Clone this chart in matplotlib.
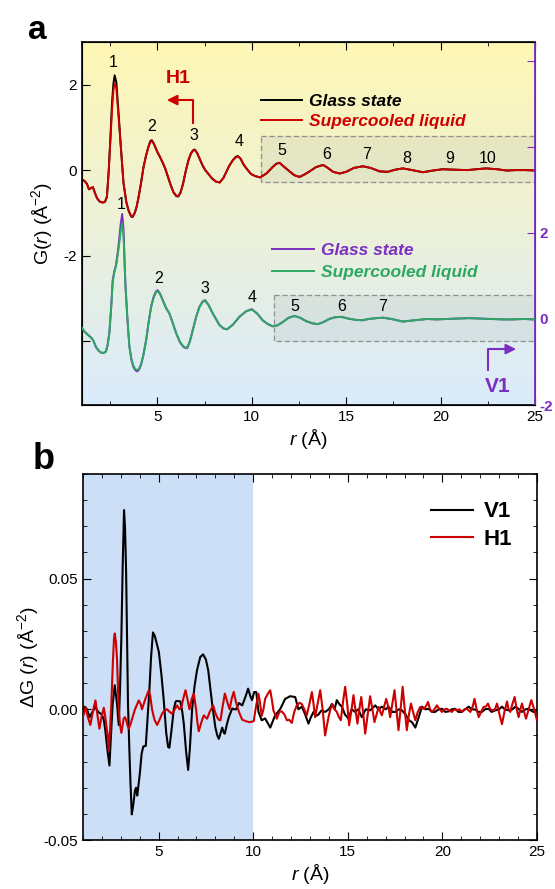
import matplotlib

matplotlib.use("Agg")
import numpy as np
import matplotlib.pyplot as plt
from matplotlib.ticker import MultipleLocator, FixedLocator, FixedFormatter

plt.rcParams["font.family"] = ["Liberation Sans", "DejaVu Sans"]
plt.rcParams["mathtext.fontset"] = "custom"
plt.rcParams["mathtext.rm"] = "Liberation Sans"
plt.rcParams["mathtext.it"] = "Liberation Sans:italic"
plt.rcParams["mathtext.bf"] = "Liberation Sans:bold"

# ---- panel a : H1 (left axis) ----
r_h1 = [1.0, 1.13, 1.26, 1.37, 1.48, 1.58, 1.7, 1.8, 1.95, 2.1, 2.22, 2.32, 2.41, 2.5, 2.59, 2.66, 2.73, 2.82,
        2.94, 3.05, 3.2, 3.35, 3.47, 3.6, 3.68, 3.8, 3.9, 4.0, 4.13, 4.26, 4.4, 4.53, 4.62, 4.7, 4.8, 4.9, 5.0,
        5.14, 5.27, 5.4, 5.55, 5.7, 5.85, 6.0, 6.1, 6.22, 6.35, 6.5, 6.64, 6.78, 6.9, 6.98, 7.1, 7.26, 7.4, 7.53,
        7.7, 7.88, 8.1, 8.3, 8.5, 8.65, 8.8, 9.0, 9.15, 9.25, 9.4, 9.55, 9.73, 9.95, 10.17, 10.44, 10.77, 11.1,
        11.3, 11.47, 11.7, 12.0, 12.25, 12.53, 12.8, 13.06, 13.4, 13.77, 14.0, 14.3, 14.65, 15.0, 15.4, 15.88,
        16.3, 16.77, 17.2, 17.6, 18.0, 18.5, 19.06, 19.6, 20.1, 20.7, 21.4, 21.9, 22.4, 23.0, 23.5, 24.0, 24.5, 25.0]
g_h1_glass = [-0.23, -0.25, -0.32, -0.45, -0.42, -0.40, -0.55, -0.66, -0.74, -0.76, -0.74, -0.63, -0.07, 0.70,
              1.56, 2.0, 2.22, 2.06, 1.33, 0.6, -0.3, -0.75, -0.95, -1.08, -1.1, -1.0, -0.85, -0.63, -0.3, 0.07,
              0.35, 0.56, 0.68, 0.70, 0.63, 0.52, 0.42, 0.30, 0.18, 0.05, -0.15, -0.35, -0.52, -0.61, -0.62, -0.53,
              -0.33, -0.02, 0.23, 0.40, 0.47, 0.48, 0.40, 0.24, 0.10, 0.0, -0.09, -0.19, -0.27, -0.29, -0.18, -0.04,
              0.10, 0.24, 0.31, 0.33, 0.27, 0.14, 0.03, -0.09, -0.14, -0.17, -0.08, 0.07, 0.15, 0.17, 0.08, -0.03,
              -0.12, -0.16, -0.10, -0.03, 0.07, 0.12, 0.06, -0.04, -0.08, -0.04, 0.05, 0.09, 0.05, -0.03, -0.04,
              0.01, 0.04, 0.0, -0.05, -0.01, 0.02, 0.01, 0.0, 0.02, 0.04, 0.02, -0.01, 0.0, 0.0, -0.01]
g_h1_liquid = [-0.23, -0.25, -0.32, -0.45, -0.42, -0.40, -0.55, -0.66, -0.74, -0.76, -0.74, -0.63, -0.07, 0.66,
               1.40, 1.85, 2.03, 1.92, 1.24, 0.6, -0.3, -0.75, -0.95, -1.07, -1.09, -1.0, -0.85, -0.63, -0.3, 0.07,
               0.35, 0.55, 0.66, 0.68, 0.62, 0.52, 0.42, 0.30, 0.18, 0.05, -0.15, -0.35, -0.52, -0.60, -0.61, -0.52,
               -0.33, -0.02, 0.23, 0.39, 0.46, 0.47, 0.40, 0.24, 0.10, 0.0, -0.09, -0.19, -0.27, -0.29, -0.18, -0.04,
               0.10, 0.23, 0.30, 0.32, 0.27, 0.14, 0.03, -0.09, -0.14, -0.17, -0.08, 0.07, 0.15, 0.17, 0.08, -0.03,
               -0.12, -0.16, -0.10, -0.03, 0.07, 0.12, 0.06, -0.04, -0.08, -0.04, 0.05, 0.09, 0.05, -0.03, -0.04,
               0.01, 0.04, 0.0, -0.05, -0.01, 0.02, 0.01, 0.0, 0.02, 0.04, 0.02, -0.01, 0.0, 0.0, -0.01]

# ---- panel a : V1 (right axis) ----
r_v1 = [1.0, 1.15, 1.32, 1.48, 1.6, 1.74, 1.87, 2.0, 2.13, 2.27, 2.36, 2.45, 2.55, 2.63, 2.72, 2.8, 2.88, 2.95,
        3.05, 3.13, 3.2, 3.3, 3.4, 3.51, 3.62, 3.72, 3.82, 3.92, 4.02, 4.13, 4.25, 4.4, 4.53, 4.66, 4.8, 4.92, 5.01,
        5.15, 5.28, 5.45, 5.63, 5.8, 5.99, 6.2, 6.4, 6.57, 6.72, 6.87, 7.05, 7.22, 7.38, 7.52, 7.7, 7.93, 8.1, 8.28,
        8.5, 8.69, 9.0, 9.34, 9.7, 10.0, 10.3, 10.57, 10.85, 11.1, 11.35, 11.64, 11.95, 12.26, 12.55, 12.88, 13.2,
        13.5, 13.8, 14.1, 14.4, 14.74, 15.1, 15.5, 15.85, 16.2, 16.6, 16.95, 17.4, 18.0, 18.6, 19.3, 19.8, 20.3,
        20.9, 21.5, 22.1, 22.7, 23.3, 23.8, 24.4, 25.0]
g_v1_glass = [-0.21, -0.30, -0.37, -0.43, -0.50, -0.65, -0.73, -0.78, -0.79, -0.76, -0.6, -0.33, 0.30, 0.91, 1.12,
              1.25, 1.50, 1.76, 2.2, 2.44, 2.1, 0.83, 0.05, -0.64, -0.95, -1.11, -1.19, -1.22, -1.18, -1.07, -0.85,
              -0.49, -0.08, 0.28, 0.52, 0.64, 0.67, 0.58, 0.44, 0.26, 0.13, -0.08, -0.33, -0.55, -0.66, -0.68, -0.52,
              -0.26, 0.05, 0.28, 0.40, 0.44, 0.33, 0.13, 0.0, -0.14, -0.22, -0.24, -0.13, 0.05, 0.18, 0.23, 0.12,
              -0.03, -0.12, -0.17, -0.15, -0.07, 0.03, 0.07, 0.03, -0.05, -0.10, -0.12, -0.07, 0.0, 0.04, 0.05, 0.01,
              -0.02, -0.03, 0.0, 0.02, 0.03, 0.0, -0.06, -0.03, 0.0, -0.01, 0.0, 0.01, 0.02, 0.01, 0.0, -0.01, -0.01,
              0.0, -0.01]
g_v1_liquid = [-0.21, -0.30, -0.37, -0.43, -0.50, -0.65, -0.73, -0.78, -0.79, -0.76, -0.6, -0.33, 0.28, 0.88, 1.10,
               1.22, 1.45, 1.66, 2.03, 2.23, 1.95, 0.80, 0.05, -0.62, -0.93, -1.08, -1.16, -1.19, -1.16, -1.05, -0.84,
               -0.49, -0.08, 0.27, 0.50, 0.62, 0.65, 0.57, 0.43, 0.26, 0.13, -0.08, -0.33, -0.54, -0.65, -0.67, -0.51,
               -0.26, 0.05, 0.27, 0.39, 0.43, 0.33, 0.13, 0.0, -0.14, -0.22, -0.24, -0.13, 0.05, 0.18, 0.22, 0.12,
               -0.03, -0.12, -0.17, -0.15, -0.07, 0.03, 0.07, 0.03, -0.05, -0.10, -0.12, -0.07, 0.0, 0.04, 0.05, 0.01,
               -0.02, -0.03, 0.0, 0.02, 0.03, 0.0, -0.06, -0.03, 0.0, -0.01, 0.0, 0.01, 0.02, 0.01, 0.0, -0.01, -0.01,
               0.0, -0.01]

# peak labels
h1_peak_r = [2.64, 4.7, 6.93, 9.3, 11.6, 13.96, 16.1, 18.2, 20.5, 22.5]
h1_peak_g = [2.53, 1.03, 0.82, 0.66, 0.47, 0.37, 0.37, 0.28, 0.28, 0.28]
v1_peak_r = [3.1, 5.07, 7.5, 10.0, 12.27, 14.76, 16.9]
v1_peak_g = [2.65, 0.95, 0.72, 0.49, 0.30, 0.30, 0.28]

# ---- panel b : difference curves ----
r_dv1 = [1.0, 1.1, 1.21, 1.35, 1.5, 1.65, 1.8, 2.0, 2.1, 2.18, 2.3, 2.4, 2.48, 2.57, 2.68, 2.8, 2.89, 2.96, 3.03,
         3.1, 3.17, 3.22, 3.28, 3.38, 3.45, 3.51, 3.58, 3.65, 3.75, 3.81, 3.87, 4.0, 4.1, 4.19, 4.32, 4.42, 4.51, 4.6,
         4.7, 4.8, 5.01, 5.15, 5.27, 5.4, 5.5, 5.57, 5.68, 5.8, 5.9, 5.98, 6.15, 6.25, 6.33, 6.45, 6.56, 6.65, 6.77,
         6.9, 7.03, 7.2, 7.35, 7.5, 7.62, 7.73, 7.83, 8.0, 8.1, 8.18, 8.28, 8.36, 8.45, 8.5, 8.6, 8.71, 8.89, 9.0,
         9.1, 9.24, 9.42, 9.6, 9.73, 9.85, 9.94, 10.05, 10.16, 10.28, 10.45, 10.63, 10.9, 11.16, 11.42, 11.69, 11.95,
         12.22, 12.39, 12.57, 12.75, 12.92, 13.05, 13.19, 13.32, 13.45, 13.6, 13.8, 14.0, 14.16, 14.3, 14.42, 14.55,
         14.69, 14.85, 15.04, 15.2, 15.39, 15.55, 15.74, 15.95, 16.18, 16.45, 16.62, 16.8, 17.0, 17.15, 17.35, 17.5,
         17.7, 17.86, 18.05, 18.21, 18.4, 18.57, 18.75, 18.92, 19.1, 19.27, 19.45, 19.62, 19.8, 19.98, 20.15, 20.33,
         20.5, 20.68, 20.85, 21.03, 21.2, 21.39, 21.55, 21.74, 21.9, 22.09, 22.25, 22.45, 22.6, 22.8, 23.0, 23.15,
         23.3, 23.5, 23.7, 23.86, 24.05, 24.2, 24.4, 24.56, 24.8, 25.0]
dg_v1 = [-0.002, 0.001, 0.0, -0.003, -0.001, 0.001, -0.001, -0.002, -0.004, -0.008, -0.016, -0.0215, -0.010,
         0.002, 0.0092, 0.002, -0.006, 0.008, 0.0277, 0.055, 0.0762, 0.070, 0.053, 0.002, -0.015, -0.028, -0.0402,
         -0.037, -0.031, -0.030, -0.033, -0.025, -0.017, -0.0142, -0.014, -0.003, 0.0073, 0.020, 0.0294, 0.028,
         0.022, 0.013, 0.0035, -0.009, -0.0144, -0.0147, -0.008, 0.0, 0.003, 0.0032, 0.003, -0.001, -0.0055, -0.016,
         -0.0232, -0.015, 0.0, 0.009, 0.015, 0.020, 0.021, 0.019, 0.015, 0.008, 0.002, -0.007, -0.010, -0.0113,
         -0.009, -0.007, -0.009, -0.0093, -0.006, -0.003, 0.0003, 0.0, 0.0, 0.0024, 0.0015, 0.005, 0.0079, 0.005,
         0.0035, 0.0066, 0.0066, -0.001, -0.0042, -0.0035, -0.007, -0.0023, 0.0, 0.004, 0.005, 0.0047, 0.0, 0.001,
         -0.002, -0.0055, -0.003, -0.001, -0.0025, -0.002, -0.0005, -0.001, 0.0, 0.002, 0.0, 0.0035, 0.002, 0.001,
         -0.002, -0.0036, 0.0, -0.001, 0.0, -0.003, 0.0, -0.0004, 0.0015, 0.0, 0.001, 0.0, 0.001, -0.001, -0.001,
         0.0, -0.0004, -0.002, -0.004, -0.005, -0.007, -0.003, 0.001, 0.0, 0.0002, -0.001, -0.001, 0.0, 0.0002,
         -0.001, -0.0008, 0.0, 0.0002, -0.001, -0.001, 0.0, 0.001, 0.0, -0.0001, -0.001, -0.001, 0.0, 0.0002,
         -0.001, -0.0004, 0.0, 0.001, 0.0, -0.0004, 0.0, 0.001, 0.0, -0.001, 0.0, 0.0002, -0.001, -0.0004]

r_dh1 = [1.0, 1.13, 1.26, 1.39, 1.52, 1.66, 1.76, 1.87, 1.98, 2.1, 2.16, 2.22, 2.3, 2.36, 2.43, 2.5, 2.58, 2.64,
         2.68, 2.74, 2.8, 2.89, 2.96, 3.03, 3.1, 3.15, 3.22, 3.28, 3.35, 3.42, 3.5, 3.6, 3.75, 3.95, 4.05, 4.12, 4.3,
         4.48, 4.56, 4.65, 4.78, 4.92, 5.05, 5.18, 5.3, 5.45, 5.58, 5.71, 5.85, 5.98, 6.1, 6.19, 6.3, 6.42, 6.52,
         6.63, 6.75, 6.86, 6.98, 7.05, 7.12, 7.22, 7.3, 7.39, 7.47, 7.56, 7.7, 7.88, 7.98, 8.09, 8.18, 8.27, 8.38,
         8.5, 8.62, 8.75, 8.86, 8.97, 9.08, 9.2, 9.3, 9.42, 9.6, 9.77, 9.9, 10.03, 10.1, 10.17, 10.28, 10.37, 10.45,
         10.54, 10.63, 10.78, 10.9, 11.0, 11.07, 11.25, 11.38, 11.51, 11.65, 11.78, 11.9, 12.04, 12.17, 12.3, 12.45,
         12.57, 12.7, 12.83, 12.97, 13.1, 13.19, 13.27, 13.4, 13.54, 13.67, 13.8, 13.9, 13.98, 14.08, 14.19, 14.3,
         14.42, 14.53, 14.63, 14.75, 14.86, 14.97, 15.07, 15.18, 15.3, 15.4, 15.51, 15.61, 15.71, 15.82, 15.92,
         16.05, 16.18, 16.3, 16.41, 16.52, 16.63, 16.72, 16.8, 16.92, 17.03, 17.14, 17.24, 17.35, 17.47, 17.57,
         17.68, 17.79, 17.9, 18.01, 18.12, 18.23, 18.34, 18.45, 18.57, 18.7, 18.83, 19.0, 19.12, 19.24, 19.35, 19.45,
         19.58, 19.71, 19.85, 19.98, 20.12, 20.24, 20.37, 20.5, 20.63, 20.77, 20.9, 21.03, 21.17, 21.3, 21.4, 21.48,
         21.6, 21.7, 21.81, 21.92, 22.05, 22.18, 22.3, 22.41, 22.53, 22.66, 22.78, 22.89, 23.02, 23.15, 23.28, 23.42,
         23.5, 23.59, 23.7, 23.82, 23.93, 24.03, 24.12, 24.21, 24.32, 24.42, 24.56, 24.7, 24.85, 25.0]
dg_h1 = [-0.003, 0.0007, -0.003, -0.006, -0.001, 0.0034, -0.002, -0.0074, -0.003, 0.0006, -0.002, -0.0055, -0.010,
         -0.0157, -0.008, 0.0022, 0.018, 0.027, 0.029, 0.026, 0.019, 0.0, -0.006, -0.009, -0.006, -0.0036, -0.003,
         -0.004, -0.006, -0.0074, -0.006, -0.0036, 0.0, 0.0034, 0.002, 0.0, 0.004, 0.0073, 0.005, 0.0, -0.004,
         -0.006, -0.004, -0.0017, -0.0005, 0.0, -0.001, -0.0017, 0.0, 0.0015, 0.0, 0.0005, 0.004, 0.0073, 0.004,
         0.0, 0.004, 0.006, 0.0, -0.005, -0.0084, -0.006, -0.004, -0.0023, -0.003, -0.0036, -0.001, 0.0015, -0.001,
         -0.003, -0.004, -0.0042, 0.001, 0.006, 0.003, 0.0, 0.004, 0.0067, 0.003, 0.0, -0.002, -0.004, -0.0045,
         -0.0049, -0.0048, -0.0045, -0.001, 0.002, 0.006, 0.002, -0.0025, 0.0, 0.004, 0.006, 0.0073, 0.003,
         -0.0005, -0.0036, -0.001, -0.0008, -0.002, -0.0042, -0.004, -0.0052, -0.001, 0.0015, 0.0025, 0.002, 0.0,
         -0.0023, 0.002, 0.0066, 0.002, -0.003, 0.002, 0.0073, 0.0, -0.010, -0.006, -0.003, 0.0, 0.002, 0.0,
         -0.001, -0.003, -0.0042, 0.003, 0.0086, 0.002, -0.0061, -0.001, 0.0054, 0.0, -0.0055, 0.0, 0.0047, -0.002,
         -0.0093, -0.002, 0.005, 0.0, -0.0049, -0.002, 0.0009, -0.001, -0.0023, 0.001, 0.004, 0.001, -0.003, 0.002,
         0.0073, 0.0, -0.008, 0.0, 0.0086, 0.0, -0.008, -0.002, 0.0022, -0.001, -0.0042, -0.001, 0.0009, 0.0002,
         0.001, 0.0028, 0.0, -0.001, 0.0, 0.0015, 0.0, -0.001, 0.0, 0.0002, -0.0005, -0.001, 0.0, -0.0004, 0.0,
         -0.001, 0.0, 0.0002, -0.0005, -0.001, 0.001, 0.004, 0.0, -0.003, -0.001, 0.0009, 0.001, 0.0022, 0.0,
         -0.0004, 0.0, 0.0022, -0.002, -0.0057, -0.001, 0.003, 0.0, -0.001, 0.002, 0.0047, 0.0, -0.003, 0.0,
         0.0022, -0.001, -0.0036, 0.0, 0.0035, 0.0, -0.0042]

black = "#000000"
red = "#CC0000"
purple = "#7B2FC0"
green = "#2DA862"

fig = plt.figure(figsize=(5.55, 8.89), dpi=100)

# ================= panel a =================
ax1 = fig.add_axes([0.1477, 0.5444, 0.8162, 0.4084])
grad = np.linspace(0, 1, 256).reshape(-1, 1)
top_c = np.array([255, 247, 180]) / 255.0
bot_c = np.array([218, 235, 252]) / 255.0
img = top_c[None, None, :] * (1 - grad[:, :, None]) + bot_c[None, None, :] * grad[:, :, None]
ax1.imshow(img, extent=[0, 1, 0, 1], transform=ax1.transAxes, aspect="auto", zorder=0)

ax1.set_xlim(1, 25)
ax1.set_ylim(-5.5, 3)
ax1.plot(r_h1, g_h1_glass, color=black, lw=1.4, zorder=3, label="Glass state")
ax1.plot(r_h1, g_h1_liquid, color=red, lw=1.4, zorder=4, label="Supercooled liquid")
ax1.fill_between([10.5, 25], [-0.28, -0.28], [0.8, 0.8], color="#8a8f95", alpha=0.13, zorder=1)
ax1.plot([10.5, 25, 25, 10.5, 10.5], [0.8, 0.8, -0.28, -0.28, 0.8], color="#909090", lw=0.9, ls=(0, (4, 2.5)), zorder=2)
for i, (x, y) in enumerate(zip(h1_peak_r, h1_peak_g)):
    ax1.text(x, y, str(i + 1), ha="center", va="center", fontsize=11.5, zorder=5)

ax1.text(6.1, 2.15, "H1", color=red, fontsize=14, fontweight="bold", ha="center", va="center")
ax1.plot([6.87, 6.87, 5.7], [1.1, 1.64, 1.64], color=red, lw=1.5)
ax1.annotate("", xy=(5.35, 1.64), xytext=(5.9, 1.64),
             arrowprops=dict(arrowstyle="-|>,head_length=0.6,head_width=0.3", color=red, lw=1.5))

ax1.legend(loc="upper left", bbox_to_anchor=(0.36, 0.90), frameon=False, handlelength=2.4,
           handletextpad=0.4, labelspacing=0.3, labelcolor="linecolor",
           prop={"weight": "bold", "style": "italic", "size": 12.5})

ax1.xaxis.set_major_locator(FixedLocator([5, 10, 15, 20, 25]))
ax1.xaxis.set_minor_locator(MultipleLocator(2.5))
ax1.yaxis.set_major_locator(FixedLocator([-4, -2, 0, 2]))
ax1.yaxis.set_major_formatter(FixedFormatter(["", "-2", "0", "2"]))
ax1.tick_params(axis="both", which="both", direction="in", labelsize=11)
ax1.tick_params(axis="x", which="both", top=True)
ax1.tick_params(axis="x", which="minor", length=3)
ax1.tick_params(axis="both", which="major", length=6)
ax1.set_xlabel("$\\mathit{r}$ (Å)", fontsize=14, labelpad=2)
ax1.set_ylabel("G($\\mathit{r}$) (Å$^{-2}$)", fontsize=14, labelpad=6)

ax2 = ax1.twinx()
ax2.set_ylim(-2, 6.44)
ax2.plot(r_v1, g_v1_glass, color=purple, lw=1.4, zorder=3, label="Glass state")
ax2.plot(r_v1, g_v1_liquid, color=green, lw=1.4, zorder=4, label="Supercooled liquid")
ax2.fill_between([11.2, 25], [-0.5, -0.5], [0.55, 0.55], color="#8a95a0", alpha=0.13, zorder=1)
ax2.plot([11.2, 25, 25, 11.2, 11.2], [0.55, 0.55, -0.5, -0.5, 0.55], color="#909090", lw=0.9, ls=(0, (4, 2.5)), zorder=2)
for i, (x, y) in enumerate(zip(v1_peak_r, v1_peak_g)):
    ax2.text(x, y, str(i + 1), ha="center", va="center", fontsize=11.5, zorder=5)

ax2.text(23.0, -1.58, "V1", color=purple, fontsize=15, fontweight="bold", ha="center", va="center")
ax2.plot([22.5, 22.5, 23.7], [-1.19, -0.70, -0.70], color=purple, lw=1.5)
ax2.annotate("", xy=(24.15, -0.70), xytext=(23.5, -0.70),
             arrowprops=dict(arrowstyle="-|>,head_length=0.6,head_width=0.3", color=purple, lw=1.5))
ax2.legend(loc="upper left", bbox_to_anchor=(0.385, 0.49), frameon=False, handlelength=2.4,
           handletextpad=0.4, labelspacing=0.4, labelcolor="linecolor",
           prop={"weight": "bold", "style": "italic", "size": 12.5})

ax2.yaxis.set_major_locator(FixedLocator([-2, 0, 2, 4, 6]))
ax2.yaxis.set_major_formatter(FixedFormatter(["-2", "0", "2", "", ""]))
ax2.tick_params(axis="y", direction="in", length=6, colors=purple, labelsize=11)
for lbl in ax2.get_yticklabels():
    lbl.set_fontweight("bold")
ax2.spines["right"].set_color(purple)
ax2.spines["right"].set_linewidth(1.3)
for s in ["top", "bottom", "left"]:
    ax1.spines[s].set_linewidth(1.2)

fig.text(0.068, 0.966, "a", fontsize=24, fontweight="bold", ha="center", va="center")

# ================= panel b =================
ax3 = fig.add_axes([0.1495, 0.0551, 0.818, 0.4117])
ax3.set_xlim(1, 25)
ax3.set_ylim(-0.05, 0.09)
ax3.axvspan(1, 10, color="#CCDFF6", zorder=0, lw=0)
ax3.plot(r_dv1, dg_v1, color=black, lw=1.5, zorder=3, label="V1")
ax3.plot(r_dh1, dg_h1, color=red, lw=1.5, zorder=4, label="H1")
ax3.legend(loc="upper right", bbox_to_anchor=(0.99, 0.98), frameon=False, handlelength=1.9,
           handletextpad=0.5, labelspacing=0.3, prop={"weight": "bold", "size": 16})

ax3.xaxis.set_major_locator(FixedLocator([5, 10, 15, 20, 25]))
ax3.xaxis.set_minor_locator(MultipleLocator(1))
ax3.yaxis.set_major_locator(FixedLocator([-0.05, 0.0, 0.05]))
ax3.yaxis.set_major_formatter(FixedFormatter(["-0.05", "0.00", "0.05"]))
ax3.yaxis.set_minor_locator(MultipleLocator(0.01))
ax3.tick_params(axis="both", which="both", direction="in", top=True, right=True, labelsize=11)
ax3.tick_params(axis="both", which="major", length=6)
ax3.tick_params(axis="both", which="minor", length=3)
ax3.set_xlabel("$\\mathit{r}$ (Å)", fontsize=14, labelpad=2)
ax3.set_ylabel("ΔG ($\\mathit{r}$) (Å$^{-2}$)", fontsize=14, labelpad=2)
for s in ax3.spines.values():
    s.set_linewidth(1.2)

fig.text(0.078, 0.483, "b", fontsize=26, fontweight="bold", ha="center", va="center")

fig.savefig("out.png", dpi=100)
